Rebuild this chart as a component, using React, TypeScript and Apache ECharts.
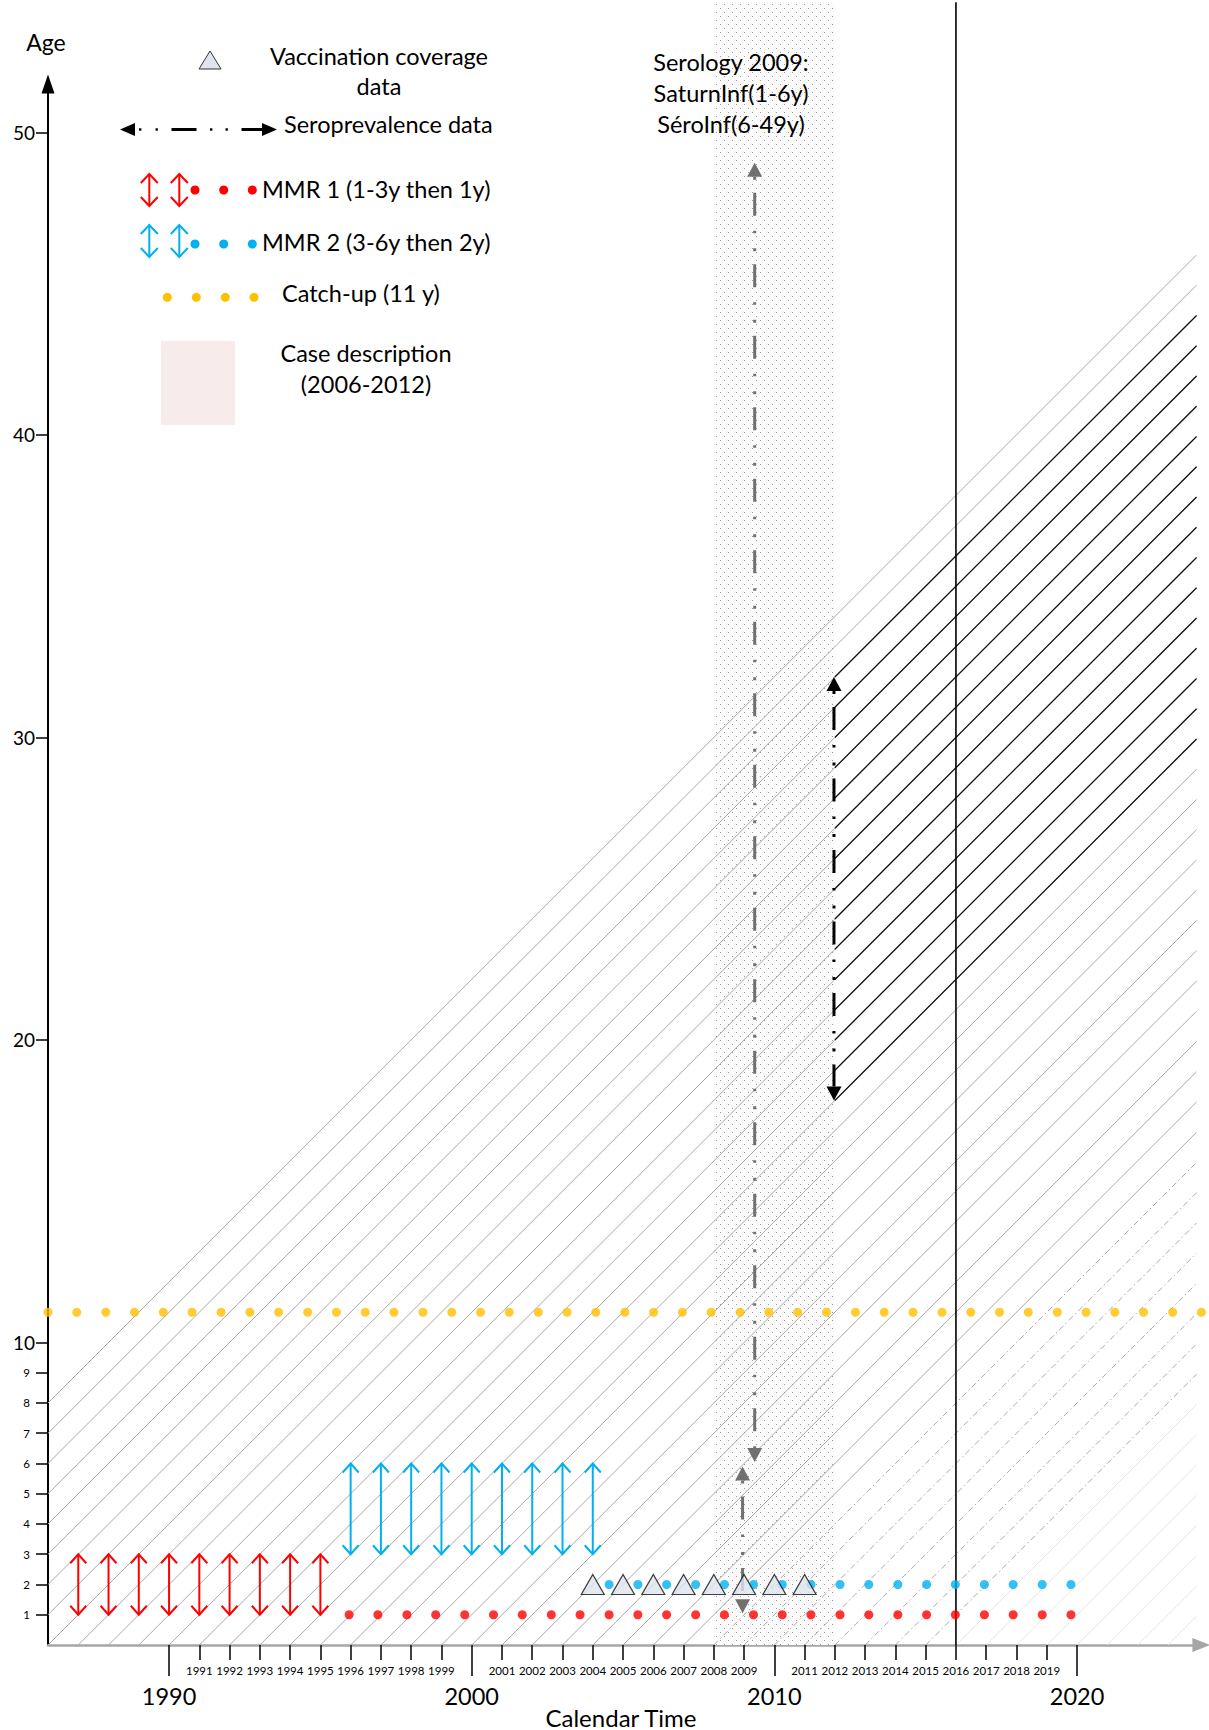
import React, { useEffect, useRef } from "react";
import * as echarts from "echarts";

const FONT = "Lato, 'Liberation Sans', sans-serif";

// ---------- Lexis diagram frame ----------
const diagramStartYear = 1986;
const diagramEndYear = 2023.95;
const xAxisMax = 2024.11;
const yAxisMax = 51.6;

// cohort (birth-year) lines
const solidCohortBirthYears = [1978, 1979, 1980, 1981, 1982, 1983, 1984, 1985, 1986, 1987, 1988, 1989, 1990, 1991, 1992, 1993, 1994, 1995, 1996, 1997, 1998, 1999, 2000, 2001, 2002, 2003, 2004, 2005, 2006, 2007];
const dashedCohortBirthYears = [2008, 2009, 2010, 2011, 2012, 2013, 2014, 2015];
const faintCohortBirthYears = [2016, 2017, 2018, 2019, 2020, 2021, 2022, 2023];
const highlightedCohortBirthYears = [1980, 1981, 1982, 1983, 1984, 1985, 1986, 1987, 1988, 1989, 1990, 1991, 1992, 1993, 1994];
const highlightStartYear = 2012;

// MMR vaccination schedules
const mmr1ArrowYears = [1987, 1988, 1989, 1990, 1991, 1992, 1993, 1994, 1995];
const mmr1ArrowAges = [1, 3];
const mmr2ArrowYears = [1996, 1997, 1998, 1999, 2000, 2001, 2002, 2003, 2004];
const mmr2ArrowAges = [3, 6];

const mmr1DotYears = [1995.95, 1996.9, 1997.86, 1998.81, 1999.77, 2000.72, 2001.67, 2002.63, 2003.58, 2004.54, 2005.49, 2006.44, 2007.4, 2008.35, 2009.31, 2010.26, 2011.21, 2012.17, 2013.12, 2014.08, 2015.03, 2015.98, 2016.94, 2017.89, 2018.85, 2019.8];
const mmr1DotAge = 1;
const mmr2DotYears = [2004.54, 2005.49, 2006.44, 2007.4, 2008.35, 2009.31, 2010.26, 2011.21, 2012.17, 2013.12, 2014.08, 2015.03, 2015.98, 2016.94, 2017.89, 2018.85, 2019.8];
const mmr2DotAge = 2;
const catchUpDotYears = [1986.0, 1986.95, 1987.91, 1988.86, 1989.81, 1990.76, 1991.72, 1992.67, 1993.62, 1994.58, 1995.53, 1996.48, 1997.43, 1998.39, 1999.34, 2000.29, 2001.24, 2002.2, 2003.15, 2004.1, 2005.06, 2006.01, 2006.96, 2007.91, 2008.87, 2009.82, 2010.77, 2011.72, 2012.68, 2013.63, 2014.58, 2015.54, 2016.49, 2017.44, 2018.39, 2019.35, 2020.3, 2021.25, 2022.2, 2023.16, 2024.11];
const catchUpAge = 11;

// vaccination coverage data
const coverageYears = [2004, 2005, 2006, 2007, 2008, 2009, 2010, 2011];
const coverageAge = 2;

// seroprevalence data (vertical arrows)
const seroArrowYears = [2009.35, 2008.95, 2011.97];
const seroArrowTopAges = [49, 5.9, 32];
const seroArrowBottomAges = [6.05, 1.05, 18];

// serology 2009 band and reference line
const serologyBandYears = [2008, 2012];
const serologyBandTopAge = 54.3;
const referenceLineYear = 2016;

// axis ticks
const smallYearTicks = [1991, 1992, 1993, 1994, 1995, 1996, 1997, 1998, 1999, 2001, 2002, 2003, 2004, 2005, 2006, 2007, 2008, 2009, 2011, 2012, 2013, 2014, 2015, 2016, 2017, 2018, 2019];
const decadeYearTicks = [1990, 2000, 2010, 2020];
const ageTicks = [1, 2, 3, 4, 5, 6, 7, 8, 9, 10, 20, 30, 40, 50];

// ---------- styles ----------
const RED = "#ff0000";
const BLUE = "#00b0f0";
const YELLOW = "#ffc000";
const seroArrowColors = ["#707070", "#707070", "#000000"];
const LEGEND_FS = 23.5;

const openArrow = (x: number, yTop: number, yBot: number, color: string, hw: number, hh: number) => [
  { type: "line", shape: { x1: x, y1: yTop, x2: x, y2: yBot }, style: { stroke: color, lineWidth: 2 } },
  { type: "polyline", shape: { points: [[x - hw, yTop + hh], [x, yTop], [x + hw, yTop + hh]] }, style: { stroke: color, lineWidth: 2, fill: null } },
  { type: "polyline", shape: { points: [[x - hw, yBot - hh], [x, yBot], [x + hw, yBot - hh]] }, style: { stroke: color, lineWidth: 2, fill: null } },
];

const txt = (text: string, x: number, y: number, size: number, align = "left") => ({
  type: "text",
  x,
  y,
  z: 30,
  style: { text, fontSize: size, fontFamily: FONT, fill: "#000", align, verticalAlign: "middle" },
});

const cohortRender = (style: any, startYear?: number) => (params: any, api: any) => {
  const b = api.value(0);
  const sx = startYear != null ? startYear : Math.max(b, diagramStartYear);
  const p1 = api.coord([sx, sx - b]);
  const p2 = api.coord([diagramEndYear, diagramEndYear - b]);
  return { type: "line", shape: { x1: p1[0], y1: p1[1], x2: p2[0], y2: p2[1] }, style };
};

const scheduleArrowRender = (color: string) => (params: any, api: any) => {
  const x = api.value(0);
  const pLow = api.coord([x, api.value(1)]);
  const pHigh = api.coord([x, api.value(2)]);
  return { type: "group", children: openArrow(pLow[0], pHigh[1], pLow[1], color, 8, 9) };
};

export default function App() {
  const ref = useRef<HTMLDivElement>(null);

  useEffect(() => {
    if (!ref.current) return;
    const chart = echarts.init(ref.current, null, { renderer: "svg" });

    const cv = document.createElement("canvas");
    cv.width = 8;
    cv.height = 8;
    const ctx = cv.getContext("2d");
    if (ctx) {
      ctx.fillStyle = "#9a9a9a";
      ctx.fillRect(0, 0, 1, 1);
      ctx.fillRect(4, 4, 1, 1);
    }
    const stipple: any = { image: cv, repeat: "repeat", imageWidth: 8, imageHeight: 8 };

    const legend: any[] = [
      { type: "polygon", z: 30, shape: { points: [[199, 69], [210, 51], [221, 69]] }, style: { fill: "#dfe4ee", stroke: "#333", lineWidth: 1 } },
      txt("Vaccination coverage", 379, 56, LEGEND_FS, "center"),
      txt("data", 379, 86, LEGEND_FS, "center"),
      // seroprevalence legend arrow
      { type: "polygon", z: 30, shape: { points: [[120, 129.5], [135, 123], [135, 136]] }, style: { fill: "#000" } },
      { type: "rect", z: 30, shape: { x: 139, y: 128.3, width: 2.4, height: 2.4 }, style: { fill: "#000" } },
      { type: "rect", z: 30, shape: { x: 155.5, y: 128.3, width: 2.4, height: 2.4 }, style: { fill: "#000" } },
      { type: "rect", z: 30, shape: { x: 171.5, y: 128, width: 25, height: 3 }, style: { fill: "#000" } },
      { type: "rect", z: 30, shape: { x: 210, y: 128.3, width: 2.4, height: 2.4 }, style: { fill: "#000" } },
      { type: "rect", z: 30, shape: { x: 225.5, y: 128.3, width: 2.4, height: 2.4 }, style: { fill: "#000" } },
      { type: "rect", z: 30, shape: { x: 241.5, y: 128, width: 22, height: 3 }, style: { fill: "#000" } },
      { type: "polygon", z: 30, shape: { points: [[277, 129.5], [262, 123], [262, 136]] }, style: { fill: "#000" } },
      txt("Seroprevalence data", 284, 124, LEGEND_FS),
      // MMR 1
      { type: "group", z: 30, children: [...openArrow(149.3, 174, 206, RED, 8.5, 9), ...openArrow(179.3, 174, 206, RED, 8.5, 9)] },
      { type: "circle", z: 30, shape: { cx: 195, cy: 190, r: 4.5 }, style: { fill: RED } },
      { type: "circle", z: 30, shape: { cx: 223.7, cy: 190, r: 4.5 }, style: { fill: RED } },
      { type: "circle", z: 30, shape: { cx: 252.3, cy: 190, r: 4.5 }, style: { fill: RED } },
      txt("MMR 1 (1-3y then 1y)", 262, 189, LEGEND_FS),
      // MMR 2
      { type: "group", z: 30, children: [...openArrow(149.3, 225, 257, BLUE, 8.5, 9), ...openArrow(179.3, 225, 257, BLUE, 8.5, 9)] },
      { type: "circle", z: 30, shape: { cx: 195, cy: 244, r: 4.5 }, style: { fill: BLUE } },
      { type: "circle", z: 30, shape: { cx: 223.7, cy: 244, r: 4.5 }, style: { fill: BLUE } },
      { type: "circle", z: 30, shape: { cx: 252.3, cy: 244, r: 4.5 }, style: { fill: BLUE } },
      txt("MMR 2 (3-6y then 2y)", 262, 242, LEGEND_FS),
      // catch-up
      { type: "circle", z: 30, shape: { cx: 167.3, cy: 297.3, r: 4.5 }, style: { fill: YELLOW } },
      { type: "circle", z: 30, shape: { cx: 196.3, cy: 297.3, r: 4.5 }, style: { fill: YELLOW } },
      { type: "circle", z: 30, shape: { cx: 225.3, cy: 297.3, r: 4.5 }, style: { fill: YELLOW } },
      { type: "circle", z: 30, shape: { cx: 254, cy: 297.3, r: 4.5 }, style: { fill: YELLOW } },
      txt("Catch-up (11 y)", 282, 293, LEGEND_FS),
      // case description
      { type: "rect", z: 30, shape: { x: 161, y: 341, width: 74, height: 84 }, style: { fill: "#f7eceb" } },
      txt("Case description", 366, 353, LEGEND_FS, "center"),
      txt("(2006-2012)", 366, 384, LEGEND_FS, "center"),
      // serology text
      txt("Serology 2009:", 731, 62, LEGEND_FS, "center"),
      txt("SaturnInf(1-6y)", 731, 93, LEGEND_FS, "center"),
      txt("SéroInf(6-49y)", 731, 124, LEGEND_FS, "center"),
      // axis titles
      txt("Age", 46, 42, 23, "center"),
      txt("Calendar Time", 621, 1717, 24, "center"),
    ];

    const option: any = {
      animation: false,
      textStyle: { fontFamily: FONT },
      grid: { left: 48, right: 7.6, top: 84, bottom: 85, containLabel: false, outerBoundsMode: "none" },
      xAxis: [
        {
          type: "value",
          position: "bottom",
          min: diagramStartYear,
          max: xAxisMax,
          axisLine: { show: true, onZero: false, lineStyle: { color: "#a6a6a6", width: 2.5 }, symbol: ["none", "triangle"], symbolSize: [14, 18] },
          axisTick: { show: true, customValues: smallYearTicks, length: 15, lineStyle: { color: "#000", width: 1.5 } },
          axisLabel: { show: true, customValues: smallYearTicks, fontSize: 11.5, color: "#000", margin: 19, fontFamily: FONT, formatter: (v: number) => String(v) },
          splitLine: { show: false },
        },
        {
          type: "value",
          position: "bottom",
          min: diagramStartYear,
          max: xAxisMax,
          axisLine: { show: false, onZero: false },
          axisTick: { show: true, customValues: decadeYearTicks, length: 31, lineStyle: { color: "#000", width: 1.5 } },
          axisLabel: { show: true, customValues: decadeYearTicks, fontSize: 23.5, color: "#000", margin: 39, fontFamily: FONT, formatter: (v: number) => String(v) },
          splitLine: { show: false },
        },
      ],
      yAxis: {
        type: "value",
        min: 0,
        max: yAxisMax,
        axisLine: { show: true, onZero: false, lineStyle: { color: "#000", width: 2 }, symbol: ["none", "triangle"], symbolSize: [13, 19] },
        axisTick: { show: true, customValues: ageTicks, length: 12, lineStyle: { color: "#000", width: 1.5 } },
        axisLabel: {
          show: true,
          customValues: ageTicks,
          margin: 13,
          formatter: (v: number) => (v < 10 ? `{s|${v}}` : `{b|${v}}`),
          rich: {
            s: { fontSize: 11.5, fontFamily: FONT, color: "#000", padding: [0, 5, 0, 0] },
            b: { fontSize: 19, fontFamily: FONT, color: "#000" },
          },
        },
        splitLine: { show: false },
      },
      series: [
        {
          name: "Serology 2009 band",
          type: "custom",
          clip: false,
          data: [[serologyBandYears[0], serologyBandYears[1]]],
          renderItem: (params: any, api: any) => {
            const p1 = api.coord([api.value(0), serologyBandTopAge]);
            const p2 = api.coord([api.value(1), 0]);
            return {
              type: "group",
              children: [
                { type: "rect", shape: { x: p1[0], y: p1[1], width: p2[0] - p1[0], height: p2[1] - p1[1] }, style: { fill: "#fcfcfc" } },
                { type: "rect", shape: { x: p1[0], y: p1[1], width: p2[0] - p1[0], height: p2[1] - p1[1] }, style: { fill: stipple } },
              ],
            };
          },
        },
        {
          name: "Cohorts",
          type: "custom",
          data: solidCohortBirthYears.map((b) => [b, 0]),
          renderItem: cohortRender({ stroke: "#a8a8a8", lineWidth: 1 }),
        },
        {
          name: "Cohorts (recent)",
          type: "custom",
          data: dashedCohortBirthYears.map((b) => [b, 0]),
          renderItem: cohortRender({ stroke: "#a9a9a9", lineWidth: 1, lineDash: [6, 3, 1.5, 3] }),
        },
        {
          name: "Cohorts (future)",
          type: "custom",
          data: faintCohortBirthYears.map((b) => [b, 0]),
          renderItem: cohortRender({ stroke: "#e6e6e6", lineWidth: 1 }),
        },
        {
          name: "Cohorts followed",
          type: "custom",
          data: highlightedCohortBirthYears.map((b) => [b, 0]),
          renderItem: cohortRender({ stroke: "#111", lineWidth: 1.3 }, highlightStartYear),
        },
        {
          name: "2016",
          type: "custom",
          clip: false,
          data: [[referenceLineYear, 0]],
          renderItem: (params: any, api: any) => {
            const p1 = api.coord([api.value(0), serologyBandTopAge]);
            const p2 = api.coord([api.value(0), 0]);
            return { type: "line", shape: { x1: p1[0], y1: p1[1], x2: p2[0], y2: p2[1] }, style: { stroke: "#000", lineWidth: 1.6 } };
          },
        },
        {
          name: "Catch-up (11 y)",
          type: "scatter",
          symbol: "circle",
          symbolSize: 9,
          itemStyle: { color: YELLOW },
          data: catchUpDotYears.map((y) => [y, catchUpAge]),
        },
        {
          name: "MMR 1 dots",
          type: "scatter",
          symbol: "circle",
          symbolSize: 9,
          itemStyle: { color: RED },
          data: mmr1DotYears.map((y) => [y, mmr1DotAge]),
        },
        {
          name: "MMR 2 dots",
          type: "scatter",
          symbol: "circle",
          symbolSize: 9,
          itemStyle: { color: BLUE },
          data: mmr2DotYears.map((y) => [y, mmr2DotAge]),
        },
        {
          name: "Vaccination coverage data",
          type: "scatter",
          symbol: "triangle",
          symbolSize: [23, 20],
          itemStyle: { color: "#dfe4ee", borderColor: "#111", borderWidth: 1.2 },
          data: coverageYears.map((y) => [y, coverageAge]),
        },
        {
          name: "MMR 1 (1-3y then 1y)",
          type: "custom",
          data: mmr1ArrowYears.map((y) => [y, mmr1ArrowAges[0], mmr1ArrowAges[1]]),
          renderItem: scheduleArrowRender(RED),
        },
        {
          name: "MMR 2 (3-6y then 2y)",
          type: "custom",
          data: mmr2ArrowYears.map((y) => [y, mmr2ArrowAges[0], mmr2ArrowAges[1]]),
          renderItem: scheduleArrowRender(BLUE),
        },
        {
          name: "Seroprevalence data",
          type: "custom",
          clip: false,
          data: seroArrowYears.map((y, i) => [y, seroArrowTopAges[i], seroArrowBottomAges[i]]),
          renderItem: (params: any, api: any) => {
            const color = seroArrowColors[params.dataIndex];
            const x = api.value(0);
            const pT = api.coord([x, api.value(1)]);
            const pB = api.coord([x, api.value(2)]);
            const L = 14;
            const W = 7.5;
            return {
              type: "group",
              children: [
                { type: "line", shape: { x1: pT[0], y1: pT[1] + L, x2: pB[0], y2: pB[1] - L }, style: { stroke: color, lineWidth: 3, lineDash: [3, 13, 23, 15, 2.5, 15] } },
                { type: "polygon", shape: { points: [[pT[0], pT[1]], [pT[0] - W, pT[1] + L], [pT[0] + W, pT[1] + L]] }, style: { fill: color } },
                { type: "polygon", shape: { points: [[pB[0], pB[1]], [pB[0] - W, pB[1] - L], [pB[0] + W, pB[1] - L]] }, style: { fill: color } },
              ],
            };
          },
        },
      ],
      graphic: legend,
    };

    chart.setOption(option);
    return () => chart.dispose();
  }, []);

  return <div ref={ref} style={{ position: "absolute", left: 0, top: 0, width: 1209, height: 1730 }} />;
}
